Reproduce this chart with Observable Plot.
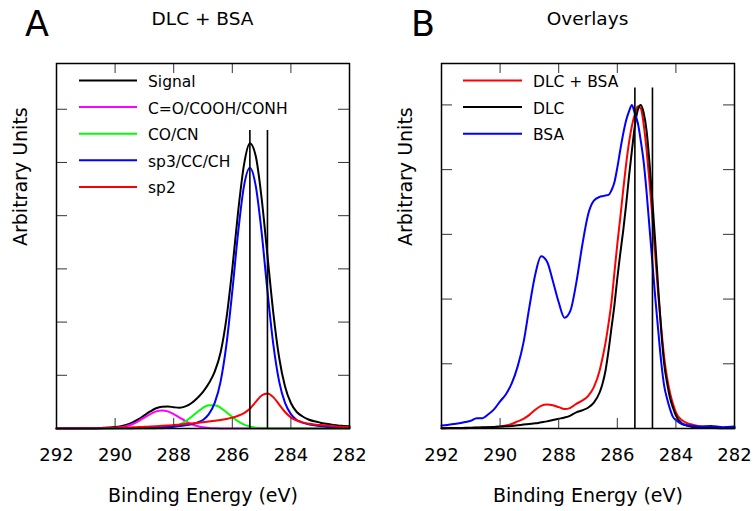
<!DOCTYPE html>
<html><head><meta charset="utf-8">
<script src="https://cdn.jsdelivr.net/npm/d3@7"></script>
<script src="https://cdn.jsdelivr.net/npm/@observablehq/plot@0.6"></script>
<style>
html,body{margin:0;padding:0;background:#fff;}
#wrap{position:relative;width:754px;height:511px;overflow:hidden;font-family:"DejaVu Sans",sans-serif;}
#panelA,#panelB{position:absolute;top:0;}
#panelA{left:0;} #panelB{left:377px;}
#overlay{position:absolute;left:0;top:0;}
</style></head>
<body><div id="wrap"><div id="panelA"></div><div id="panelB"></div>
<svg id="overlay" width="754" height="511" xmlns="http://www.w3.org/2000/svg"></svg></div>
<script>
// ---------- Panel A: DLC + BSA peak fit ----------
const energyA = [282.0,282.2,282.4,282.6,282.8,283.0,283.2,283.4,283.6,283.8,284.0,284.2,284.4,284.6,284.8,285.0,285.2,285.4,285.6,285.8,286.0,286.2,286.4,286.6,286.8,287.0,287.2,287.4,287.6,287.8,288.0,288.2,288.4,288.6,288.8,289.0,289.2,289.4,289.6,289.8,290.0,290.2,290.4,290.6,290.8,291.0,291.2,291.4,291.6,291.8,292.0];
const signalA = [0.04,0.048,0.057,0.073,0.09,0.11,0.135,0.17,0.225,0.31,0.48,0.79,1.33,2.17,3.25,4.33,5.12,5.36,4.96,4.08,3.00,2.07,1.43,1.07,0.85,0.69,0.57,0.475,0.415,0.39,0.40,0.415,0.41,0.38,0.32,0.248,0.175,0.114,0.07,0.042,0.026,0.017,0.012,0.008,0.007,0.006,0.005,0.004,0.003,0.003,0.002];
const carbonylA = [0,0,0,0,0,0,0,0,0,0,0,0,0,0,0,0,0,0,0,0,0,0,0,0.004,0.010,0.022,0.046,0.085,0.140,0.206,0.272,0.322,0.340,0.322,0.272,0.206,0.140,0.085,0.046,0.022,0.010,0.004,0.001,0,0,0,0,0,0,0,0];
const coCnA = [0,0,0,0,0,0,0,0,0,0,0,0,0,0,0.002,0.006,0.016,0.036,0.074,0.134,0.215,0.307,0.389,0.438,0.438,0.389,0.307,0.215,0.134,0.074,0.036,0.016,0.006,0.002,0,0,0,0,0,0,0,0,0,0,0,0,0,0,0,0,0];
const sp3A = [0.014,0.018,0.022,0.028,0.035,0.045,0.06,0.08,0.11,0.16,0.27,0.48,0.88,1.58,2.58,3.69,4.56,4.90,4.56,3.69,2.58,1.58,0.88,0.48,0.27,0.16,0.11,0.08,0.06,0.045,0.035,0.028,0.022,0.018,0.014,0.011,0.009,0.007,0.006,0.005,0.004,0.003,0.003,0.002,0.002,0.002,0.001,0.001,0.001,0.001,0.001];
const sp2A = [0.025,0.03,0.035,0.045,0.055,0.065,0.075,0.09,0.115,0.15,0.21,0.31,0.45,0.59,0.66,0.62,0.50,0.37,0.29,0.24,0.205,0.18,0.16,0.145,0.13,0.117,0.105,0.094,0.084,0.074,0.065,0.057,0.05,0.043,0.037,0.031,0.026,0.022,0.018,0.015,0.012,0.01,0.008,0.006,0.005,0.004,0.003,0.002,0.002,0.001,0.001];
const seriesA = ["Signal","C=O/COOH/CONH","CO/CN","sp3/CC/CH","sp2"];
const colorsA = ["#000000","#ff00ff","#00ff00","#0000ff","#ff0000"];
const valuesA = [signalA, carbonylA, coCnA, sp3A, sp2A];

// ---------- Panel B: overlays (normalised) ----------
const energyB = [282.0,282.4,282.8,283.2,283.4,283.6,283.8,284.0,284.1,284.2,284.3,284.4,284.5,284.6,284.7,284.8,284.9,285.0,285.1,285.2,285.3,285.4,285.5,285.6,285.7,285.8,285.9,286.0,286.1,286.2,286.3,286.4,286.5,286.6,286.8,287.0,287.2,287.4,287.6,287.8,288.0,288.2,288.4,288.6,288.8,289.0,289.2,289.4,289.6,289.8,290.0,290.2,290.4,290.6,290.8,291.0,291.2,291.4,291.6,291.8,292.0];
const dlcBsaB = [0.01,0.01,0.02,0.035,0.055,0.08,0.13,0.25,0.38,0.55,0.78,1.10,1.55,2.05,2.65,3.25,3.80,4.30,4.70,4.95,4.98,4.86,4.68,4.42,4.08,3.68,3.25,2.85,2.40,1.95,1.62,1.33,1.10,0.90,0.64,0.50,0.43,0.38,0.32,0.30,0.33,0.36,0.37,0.35,0.29,0.21,0.15,0.11,0.07,0.045,0.03,0.025,0.02,0.012,0.01,0.008,0.005,0.005,0.004,0.003,0.003];
const dlcB = [0.005,0.005,0.01,0.015,0.02,0.04,0.08,0.20,0.32,0.47,0.70,1.00,1.50,2.15,2.85,3.50,4.10,4.60,4.88,5.00,4.92,4.68,4.30,3.90,3.45,3.05,2.70,2.32,1.90,1.55,1.20,0.90,0.70,0.56,0.40,0.32,0.28,0.25,0.20,0.17,0.15,0.13,0.11,0.095,0.08,0.07,0.06,0.05,0.04,0.035,0.03,0.025,0.02,0.018,0.015,0.012,0.01,0.008,0.007,0.006,0.005];
const bsaB = [0.03,0.02,0.04,0.03,0.04,0.05,0.07,0.13,0.18,0.30,0.46,0.66,1.02,1.50,2.00,2.55,3.10,3.65,4.12,4.45,4.72,4.86,5.00,4.90,4.76,4.55,4.30,4.03,3.80,3.68,3.61,3.60,3.59,3.58,3.52,3.30,2.82,2.25,1.82,1.71,1.95,2.28,2.58,2.66,2.38,1.88,1.33,0.96,0.70,0.53,0.42,0.30,0.22,0.16,0.16,0.12,0.10,0.08,0.07,0.055,0.045];
const seriesB = ["DLC + BSA","DLC","BSA"];
const colorsB = ["#ff0000","#000000","#0000ff"];
const valuesB = [dlcBsaB, dlcB, bsaB];

// ---------- shared axis content ----------
const xTickLabels = [292,290,288,286,284,282];
const xInnerTicks = [290,288,286,284];
const yTicksA = [1,2,3,4,5,6];
const yTicksB = [1,2,3,4,5];
const markerEnergies = [285.4, 284.8];
const xLabel = "Binding Energy (eV)";
const yLabel = "Arbitrary Units";
const titles = ["DLC + BSA","Overlays"];
const letters = ["A","B"];

const FONT = "DejaVu Sans, sans-serif";

function toRows(energy, names, values) {
  const rows = [];
  names.forEach((name, k) => {
    energy.forEach((e, i) => rows.push({E: e, v: values[k][i], series: name}));
  });
  return rows.sort((a, b) => b.E - a.E);
}

function panel({energy, names, colors, values, yMax, yTicks, markerTop, marginLeft, marginRight}) {
  const W = 377, H = 511, mt = 63, mb = 83;
  const ph = H - mt - mb, pw = W - marginLeft - marginRight;
  const rows = toRows(energy, names, values);
  return Plot.plot({
    width: W, height: H, marginLeft, marginRight, marginTop: mt, marginBottom: mb,
    style: {fontFamily: FONT, background: "transparent", color: "#000", overflow: "visible"},
    x: {domain: [292, 282]},
    y: {domain: [0, yMax], axis: null},
    marks: [
      ...names.map((n, k) => Plot.line(rows.filter(r => r.series === n), {x: "E", y: "v", stroke: colors[k], strokeWidth: 2, curve: "monotone-x"})),
      Plot.ruleX(markerEnergies, {x: d => d, y1: 0, y2: markerTop, stroke: "#000", strokeWidth: 1.6}),
      Plot.ruleX(xInnerTicks, {x: d => d, insetTop: ph - 10, stroke: "#333", strokeWidth: 1}),
      Plot.ruleX(xInnerTicks, {x: d => d, insetBottom: ph - 10, stroke: "#333", strokeWidth: 1}),
      Plot.ruleY(yTicks, {y: d => d, insetRight: pw - 11, stroke: "#333", strokeWidth: 1}),
      Plot.ruleY(yTicks, {y: d => d, insetLeft: pw - 11, stroke: "#333", strokeWidth: 1}),
      Plot.frame({stroke: "#000", strokeWidth: 1.5}),
      Plot.axisX(xTickLabels, {tickSize: 0, tickPadding: 20, fontSize: 18, tickFormat: d => String(d), label: null}),
      Plot.text([xLabel], {frameAnchor: "bottom", dy: 67, fontSize: 19, lineAnchor: "middle", text: d => d}),
      Plot.text([yLabel], {frameAnchor: "left", dx: -36, rotate: -90, fontSize: 19, lineAnchor: "middle", text: d => d})
    ]
  });
}

document.getElementById("panelA").append(panel({
  energy: energyA, names: seriesA, colors: colorsA, values: valuesA,
  yMax: 6.86, yTicks: yTicksA, markerTop: 5.6, marginLeft: 56, marginRight: 28
}));
document.getElementById("panelB").append(panel({
  energy: energyB, names: seriesB, colors: colorsB, values: valuesB,
  yMax: 5.64, yTicks: yTicksB, markerTop: 5.26, marginLeft: 64, marginRight: 20
}));

// ---------- overlay: panel letters, titles, legends ----------
const ov = d3.select("#overlay").style("font-family", FONT);
const panelGeom = [{letterX: 25, titleX: 202.5, lx1: 79, lx2: 137, tx: 148, names: seriesA, colors: colorsA},
                   {letterX: 411, titleX: 587.5, lx1: 463, lx2: 522, tx: 533, names: seriesB, colors: colorsB}];
panelGeom.forEach((g, p) => {
  ov.append("text").attr("x", g.letterX).attr("y", 36).attr("font-size", 35).text(letters[p]);
  ov.append("text").attr("x", g.titleX).attr("y", 25).attr("font-size", 18.5).attr("text-anchor", "middle").text(titles[p]);
  g.names.forEach((n, i) => {
    const y = 80.5 + i * 26.6;
    ov.append("line").attr("x1", g.lx1).attr("x2", g.lx2).attr("y1", y).attr("y2", y)
      .attr("stroke", g.colors[i]).attr("stroke-width", 2);
    ov.append("text").attr("x", g.tx).attr("y", y + 1.5).attr("font-size", 15.5)
      .attr("dominant-baseline", "central").text(n);
  });
});
</script>
</body></html>
